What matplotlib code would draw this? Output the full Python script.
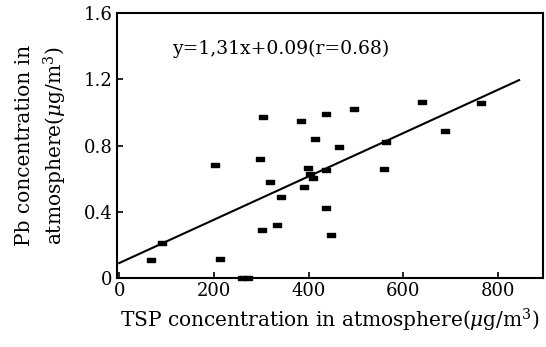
import matplotlib
matplotlib.use("Agg")
import matplotlib.pyplot as plt
import numpy as np
from matplotlib.path import Path

plt.rcParams.update({
    "font.family": "serif",
    "font.serif": ["DejaVu Serif"],
    "mathtext.fontset": "dejavuserif",
    "font.size": 13,
})

# TSP (ug/m3) vs Pb (ug/m3)
tsp = [68, 91, 203, 213, 260, 272, 297, 303, 301, 319, 333, 342, 384, 391,
       398, 402, 408, 414, 437, 436, 437, 448, 463, 495, 563, 559, 639, 687, 763]
pb = [0.107, 0.213, 0.68, 0.115, 0.0, 0.0, 0.72, 0.97, 0.29, 0.577, 0.32, 0.49,
      0.946, 0.547, 0.663, 0.63, 0.605, 0.838, 0.99, 0.653, 0.42, 0.257, 0.79,
      1.02, 0.82, 0.657, 1.064, 0.889, 1.057]
slope, intercept = 0.00131, 0.09
fit_range = [0, 844]
xticks = [0, 200, 400, 600, 800]
yticks = [0, 0.4, 0.8, 1.2, 1.6]
ytick_labels = ["0", "0.4", "0.8", "1.2", "1.6"]

fig = plt.figure(figsize=(5.46, 3.47), dpi=100)
ax = fig.add_axes([0.214, 0.199, 0.781, 0.763])

rect = Path([(-1, -0.6), (1, -0.6), (1, 0.6), (-1, 0.6), (-1, -0.6)],
            [Path.MOVETO, Path.LINETO, Path.LINETO, Path.LINETO, Path.CLOSEPOLY])
ax.plot(tsp, pb, linestyle="none", marker=rect, markersize=5.5,
        color="black", clip_on=False, zorder=3)

xf = np.array(fit_range, dtype=float)
ax.plot(xf, slope * xf + intercept, color="black", lw=1.5)

ax.text(112, 1.384, "y=1,31x+0.09(r=0.68)", fontsize=13.5, va="center")

ax.set_xlim(-5, 895)
ax.set_ylim(0, 1.6)
ax.set_xticks(xticks)
ax.set_yticks(yticks)
ax.set_yticklabels(ytick_labels)
ax.tick_params(direction="in", length=4, width=1.2, labelsize=13, pad=3)
for s in ax.spines.values():
    s.set_linewidth(1.5)

ax.set_xlabel(r"TSP concentration in atmosphere($\mu$g/m$^3$)", fontsize=14.5,
              labelpad=5)
ax.set_ylabel("Pb concentration in\n" + r"atmosphere($\mu$g/m$^3$)",
              fontsize=14.5, labelpad=11, linespacing=1.35)

fig.savefig("out.png", dpi=100)
